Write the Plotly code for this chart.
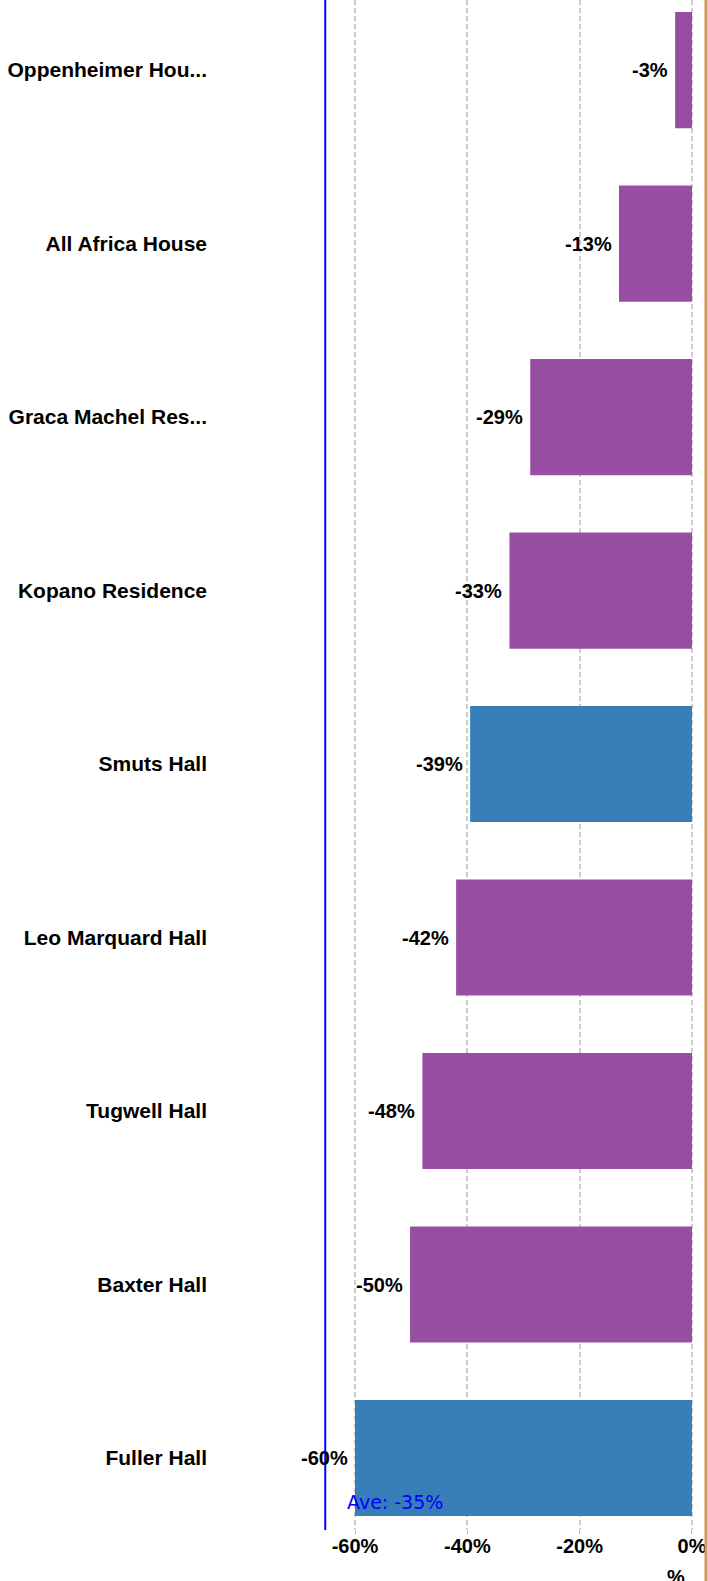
import plotly.graph_objects as go

categories = ["Oppenheimer Hou...", "All Africa House", "Graca Machel Res...", "Kopano Residence",
              "Smuts Hall", "Leo Marquard Hall", "Tugwell Hall", "Baxter Hall", "Fuller Hall"]
values = [-3.0, -13.0, -28.8, -32.5, -39.5, -42.0, -48.0, -50.2, -60.0]
value_labels = ["-3%", "-13%", "-29%", "-33%", "-39%", "-42%", "-48%", "-50%", "-60%"]
bar_colors = ["#984EA3", "#984EA3", "#984EA3", "#984EA3", "#377EB8",
              "#984EA3", "#984EA3", "#984EA3", "#377EB8"]
tick_vals = [-60, -40, -20, 0]
tick_text = ["-60%", "-40%", "-20%", "0%"]
average_label = "Ave: -35%"
left_line_x = -65.3
right_line_x = 2.49

FONT = "Arial, Liberation Sans, sans-serif"

fig = go.Figure()
fig.add_trace(go.Bar(
    x=values, y=categories, orientation="h",
    marker=dict(color=bar_colors, line=dict(width=0)),
    width=0.67, hoverinfo="x+y",
))

annotations = []
for v, c, t in zip(values, categories, value_labels):
    annotations.append(dict(x=v, y=c, xref="x", yref="y", text="<b>%s</b>" % t,
                            showarrow=False, xanchor="right", yanchor="middle", xshift=-5,
                            font=dict(family=FONT, size=20, color="black")))
annotations.append(dict(x=-61.8, y=0.0183, xref="x", yref="paper", text=average_label,
                        showarrow=False, xanchor="left", yanchor="middle",
                        font=dict(family="DejaVu Sans, Verdana, sans-serif", size=19, color="#0000FF")))
annotations.append(dict(x=(676 - 324) / 384, y=-0.0307, xref="paper", yref="paper", text="<b>%</b>",
                        showarrow=False, xanchor="center", yanchor="middle",
                        font=dict(family=FONT, size=20, color="black")))

shapes = [
    dict(type="line", xref="x", yref="paper", x0=left_line_x, x1=left_line_x, y0=0, y1=1,
         line=dict(color="#0000FF", width=2)),
    dict(type="line", xref="x", yref="paper", x0=right_line_x, x1=right_line_x, y0=-0.05, y1=1,
         line=dict(color="#D4975A", width=3)),
]

fig.update_layout(
    width=708, height=1581,
    margin=dict(l=324, r=0, t=0, b=51),
    plot_bgcolor="white", paper_bgcolor="white",
    showlegend=False,
    annotations=annotations,
    shapes=shapes,
    xaxis=dict(range=[-65.52, 2.85], tickvals=tick_vals, ticktext=tick_text,
               showgrid=True, gridcolor="#cccccc", gridwidth=1.5, griddash="5px,3px",
               zeroline=False, showline=False,
               ticks="outside", ticklen=3, tickcolor="#F5A142", tickwidth=1,
               ticklabelstandoff=-5,
               tickfont=dict(family=FONT, size=20, color="black", weight="bold")),
    yaxis=dict(type="category", categoryarray=categories, range=[8.415, -0.4035],
               showgrid=False, zeroline=False, showline=False, ticks="",
               ticklabelstandoff=116,
               tickfont=dict(family=FONT, size=21, color="black", weight="bold")),
)

fig.write_html("out.html", config={"displayModeBar": False},
               post_script="document.body.style.margin='0';document.body.style.overflow='hidden';")
